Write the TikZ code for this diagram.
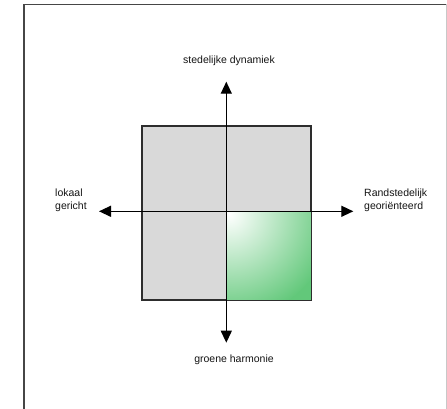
\documentclass[tikz,border=0pt]{standalone}
\usepackage{fontspec}
\setmainfont{Liberation Sans}
\usetikzlibrary{arrows.meta}
\definecolor{sqgray}{RGB}{217,217,217}
\definecolor{sqline}{RGB}{45,45,45}
\definecolor{greenq}{RGB}{98,200,122}
\definecolor{frameline}{RGB}{70,70,70}
\definecolor{framelight}{RGB}{200,200,200}
\definecolor{txt}{RGB}{20,20,20}
\tikzset{
  quad/.style={fill=sqgray, draw=sqline, line width=1.3pt},
  axisline/.style={line width=1.3pt, black, {Triangle[length=12pt,width=11pt]}-{Triangle[length=12pt,width=11pt]}},
  lbl/.style={inner sep=0pt, font=\fontsize{10.5}{13}\selectfont, text=txt},
}
\begin{document}
\begin{tikzpicture}[x=1pt,y=-1pt]
\useasboundingbox (0,0) rectangle (447,409);
% frame
\draw[frameline, line width=1.8pt] (24,412) -- (24,4.5) -- (446,4.5);
\draw[framelight, line width=0.8pt] (446,4.5) -- (446,412);
% square
\coordinate (c) at (226.3,211.3);
\node[quad, minimum width=168.3pt, minimum height=173.7pt, inner sep=0pt, anchor=north west] (sq) at (141.7,125.3) {};
% green quadrant
\begin{scope}
  \clip (c) rectangle (sq.south east);
  \fill[greenq] (c) rectangle (sq.south east);
  \shade[inner color=white, outer color=greenq] (229,214) circle (105);
\end{scope}
\draw[sqline, line width=1.3pt] (sq.north west) rectangle (sq.south east);
% axes
\coordinate (n) at (226.3,81.7);
\coordinate (s) at (226.3,342.7);
\coordinate (w) at (99,211.3);
\coordinate (e) at (353.3,211.3);
\draw[axisline] (s) -- (n);
\draw[axisline] (w) -- (e);
% labels
\node[lbl, anchor=base] (tl) at (229,64) {stedelijke dynamiek};
\node[lbl, anchor=base] (bl) at (234,362) {groene harmonie};
\node[lbl, anchor=base west, align=left] (ll) at (55,209.5) {lokaal\\gericht};
\node[lbl, anchor=base west, align=left] (rl) at (364,209.5) {Randstedelijk\\georiënteerd};
\end{tikzpicture}
\end{document}
